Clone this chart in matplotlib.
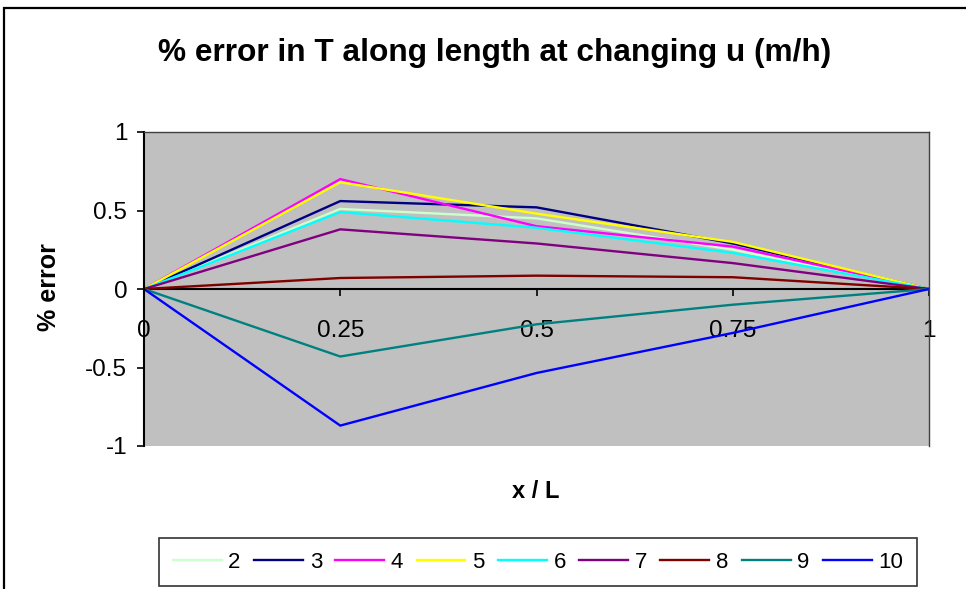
import matplotlib
matplotlib.use("Agg")
import matplotlib.pyplot as plt
from matplotlib.patches import Rectangle

plt.rcParams['font.family'] = ['Liberation Sans', 'DejaVu Sans']

x_pos = [0, 0.25, 0.5, 0.75, 1]
x_labels = ["0", "0.25", "0.5", "0.75", "1"]
series_names = ["2", "3", "4", "5", "6", "7", "8", "9", "10"]
s2 = [0, 0.51, 0.45, 0.25, 0]
s3 = [0, 0.56, 0.52, 0.29, 0]
s4 = [0, 0.70, 0.40, 0.27, 0]
s5 = [0, 0.68, 0.48, 0.30, 0]
s6 = [0, 0.49, 0.39, 0.23, 0]
s7 = [0, 0.38, 0.29, 0.165, 0]
s8 = [0, 0.07, 0.085, 0.075, 0]
s9 = [0, -0.43, -0.225, -0.10, 0]
s10 = [0, -0.87, -0.535, -0.28, 0]
series_values = [s2, s3, s4, s5, s6, s7, s8, s9, s10]
colors = ["#CCFFCC", "#000080", "#FF00FF", "#FFFF00", "#00FFFF",
          "#800080", "#800000", "#008080", "#0000FF"]
y_ticks = [-1, -0.5, 0, 0.5, 1]
y_labels = ["-1", "-0.5", "0", "0.5", "1"]

W, H = 966, 589
fig = plt.figure(figsize=(W / 100, H / 100), dpi=100)
fig.patch.set_facecolor("white")

# outer chart border (cut at right / bottom in the reference)
fig.add_artist(Rectangle((4 / W, -0.05), 1.2, (H - 8) / H + 0.05,
                         transform=fig.transFigure, fill=False,
                         edgecolor="black", linewidth=1.6))

ax = fig.add_axes([144 / W, (H - 446) / H, (929 - 144) / W, (446 - 132) / H])
ax.set_facecolor("#C0C0C0")

for sp in ["top", "right"]:
    ax.spines[sp].set_color("#404040")
    ax.spines[sp].set_linewidth(1.0)
ax.spines["left"].set_color("black")
ax.spines["left"].set_linewidth(1.5)
ax.spines["bottom"].set_position(("data", 0))
ax.spines["bottom"].set_color("black")
ax.spines["bottom"].set_linewidth(1.5)
ax.spines["bottom"].set_zorder(1.5)

for name, vals, c in zip(series_names, series_values, colors):
    ax.plot(x_pos, vals, color=c, linewidth=1.7, label=name,
            solid_joinstyle="miter")

ax.set_xlim(0, 1)
ax.set_ylim(-1, 1)
ax.set_yticks(y_ticks)
ax.set_yticklabels(y_labels, fontsize=17.5)
ax.set_xticks(x_pos)
ax.set_xticklabels(x_labels, fontsize=17.5)

ax.tick_params(axis="y", direction="out", length=5, width=1.2, pad=7)
ax.tick_params(axis="x", direction="out", length=5, width=1.2, pad=17)
for lab in ax.get_xticklabels():
    lab.set_zorder(5)

fig.text(49 / W, 1 - 287 / H, "% error", ha="center", va="center",
         rotation=90, fontsize=18, fontweight="bold")
fig.text(536 / W, 1 - 492 / H, "x / L", ha="center", va="center",
         fontsize=17, fontweight="bold")
fig.text(495 / W, 1 - 53 / H, "% error in T along length at changing u (m/h)",
         ha="center", va="center", fontsize=22.8, fontweight="bold")

leg = fig.legend(loc="center", bbox_to_anchor=(538 / W, 1 - 562 / H),
                 ncol=9, fontsize=16, frameon=True, fancybox=False,
                 edgecolor="black", handlelength=2.2, handletextpad=0.3,
                 columnspacing=0.6, borderpad=0.6, borderaxespad=0)
leg.get_frame().set_linewidth(1.2)

fig.savefig("out.png", dpi=100)
